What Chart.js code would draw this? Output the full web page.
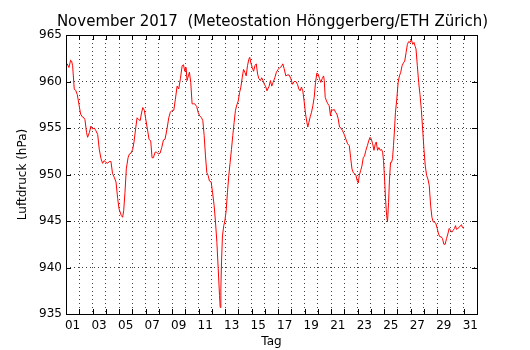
<!DOCTYPE html>
<html><head><meta charset="utf-8">
<script src="https://cdn.jsdelivr.net/npm/chart.js@4"></script>
<style>html,body{margin:0;padding:0;background:#fff}#wrap{width:530px;height:350px}</style>
</head><body><div id="wrap"><canvas id="c" width="530" height="350"></canvas></div>
<script>
// days since 1 Nov 2017 00:00
const days = [
0.00,0.09,0.22,0.35,0.42,0.50,0.62,0.75,0.85,0.97,1.10,1.23,1.35,1.43,1.55,1.63,1.76,1.88,2.00,2.13,2.26,2.39,2.51,2.64,2.76,2.89,3.00,3.14,3.26,3.39,3.51,3.64,3.77,3.90,4.00,4.07,4.17,4.27,4.35,4.45,4.55,4.68,4.78,4.90,5.03,5.13,5.25,5.36,5.48,5.60,5.68,5.79,5.91,6.01,6.14,6.26,6.39,6.49,6.59,6.72,6.84,6.97,7.10,7.22,7.35,
7.47,7.62,7.75,7.87,8.00,8.13,8.25,8.38,8.50,8.63,8.76,8.86,8.96,9.06,9.13,9.23,9.31,9.41,9.51,9.61,9.71,9.86,9.96,10.09,10.22,10.32,10.42,10.52,10.62,10.72,10.82,10.95,11.05,11.17,11.27,11.38,11.48,11.58,11.63,11.68,11.73,11.80,11.90,11.98,12.08,12.18,12.28,12.38,12.48,12.58,12.68,12.78,12.89,12.99,13.09,13.19,13.29,13.39,13.49,13.59,13.69,13.79,13.86,13.94,14.05,14.15,14.25,14.35,14.45,14.55,14.66,14.76,14.86,14.96,15.05,15.16,
15.32,15.42,15.52,15.62,15.75,15.87,16.00,16.13,16.25,16.35,16.45,16.58,16.70,16.83,16.96,17.08,17.21,17.34,17.46,17.56,17.66,17.76,17.86,17.96,18.07,18.17,18.24,18.32,18.42,18.52,18.62,18.72,18.82,18.92,19.02,19.12,19.22,19.32,19.43,19.48,19.55,19.65,19.75,19.85,19.95,20.03,20.13,20.23,20.33,20.43,20.53,20.63,20.74,20.86,20.99,21.11,21.24,21.37,21.47,21.57,21.67,21.77,21.87,21.97,22.05,22.12,22.22,22.32,22.42,22.52,22.62,22.73,22.83,22.93,23.03,
23.13,23.23,23.33,23.40,23.50,23.60,23.70,23.80,23.88,23.95,24.03,24.10,24.18,24.25,24.33,24.40,24.48,24.55,24.63,24.70,24.78,24.85,24.95,25.05,25.15,25.25,25.35,25.45,25.55,25.65,25.75,25.85,25.95,26.05,26.15,26.25,26.33,26.40,26.50,26.60,26.70,26.80,26.90,27.00,27.10,27.20,27.30,27.40,27.50,27.60,27.70,27.80,27.90,28.00,28.10,28.20,28.30,28.40,28.50,28.60,28.70,28.80,28.90,29.00,29.10,29.20,29.30,29.38,29.45,29.55,29.65,29.75,29.83,29.90,29.98
];
// air pressure, hPa
const pressure = [
962.0,961.9,961.5,962.3,962.2,961.7,959.2,959.0,958.6,957.6,956.5,956.2,956.1,955.9,954.5,954.0,954.5,955.2,954.9,955.0,954.7,954.3,952.7,951.7,951.2,951.5,951.3,951.2,951.4,951.4,950.1,949.7,949.2,947.4,946.3,946.3,945.6,945.4,946.1,948.1,950.6,951.8,952.2,952.3,952.7,953.5,954.9,956.1,955.9,955.8,956.5,957.2,956.9,956.0,954.9,953.8,953.6,951.8,951.8,952.4,952.4,952.2,952.3,952.9,953.7,
953.8,954.9,956.1,956.7,956.9,956.9,958.1,959.5,959.2,960.3,961.7,961.8,961.1,961.5,960.1,960.6,961.0,959.9,957.6,957.6,957.6,957.3,956.7,956.3,956.1,955.8,954.2,952.0,950.2,949.9,949.3,949.2,948.1,946.7,945.0,942.7,939.9,937.0,935.7,937.7,940.6,943.4,944.5,945.0,946.1,948.1,949.9,951.3,952.7,954.2,955.6,956.9,957.5,957.9,958.8,959.4,960.4,961.3,961.0,960.6,961.7,962.4,962.6,962.0,961.5,961.1,961.7,961.9,960.8,960.3,960.1,960.4,960.1,959.7,959.5,959.0,
959.5,960.1,959.5,959.9,960.4,961.0,961.3,961.5,961.6,961.9,961.4,960.6,960.7,960.7,960.3,959.7,960.0,960.0,959.7,959.2,959.0,959.4,959.0,957.9,956.5,955.6,955.1,955.6,956.2,956.7,957.4,958.3,959.9,960.9,960.8,960.3,959.9,960.3,960.6,960.1,958.3,957.9,957.6,957.4,956.3,957.0,956.9,957.0,956.7,956.5,956.0,955.1,955.0,954.7,954.3,953.8,953.3,953.1,951.8,950.6,950.2,950.1,949.9,949.3,949.1,949.9,950.4,950.9,951.8,952.0,952.6,953.1,953.6,954.0,953.8,
953.3,952.6,953.3,953.5,952.6,952.9,952.6,952.7,952.4,951.5,949.5,947.4,945.6,944.9,947.0,949.5,951.3,951.3,951.7,953.1,954.9,956.7,958.1,959.9,960.6,961.0,961.7,962.0,962.2,963.1,964.0,964.3,964.2,964.5,964.0,964.2,963.8,963.5,961.7,959.9,958.6,957.0,954.9,952.7,950.9,949.9,949.5,948.8,946.7,945.4,944.9,944.9,944.7,944.2,943.6,943.3,943.3,943.1,942.5,942.5,943.1,943.6,944.2,944.0,943.8,944.0,944.2,944.5,944.1,944.2,944.3,944.5,944.6,944.3,944.2
];
const xTickLabels = ['01','03','05','07','09','11','13','15','17','19','21','23','25','27','29','31'];
const yMin = 935, yMax = 965, yStep = 5;
const titleText = 'November 2017  (Meteostation Hönggerberg/ETH Zürich)';
const xTitle = 'Tag';
const yTitle = 'Luftdruck (hPa)';

Chart.defaults.font.family = "'DejaVu Sans', sans-serif";
Chart.defaults.color = '#000';

const framePlugin = {
  id: 'frame',
  afterDraw(chart) {
    const {ctx, chartArea: {left, right, top, bottom}, scales: {x, y, yRight}} = chart;
    ctx.save();
    ctx.strokeStyle = '#000';
    ctx.lineWidth = 1;
    ctx.setLineDash([]);
    ctx.beginPath();
    x.ticks.forEach(t => {
      const px = Math.round(x.getPixelForValue(t.value)) + 0.5;
      ctx.moveTo(px, bottom); ctx.lineTo(px, bottom - 5);
      ctx.moveTo(px, top); ctx.lineTo(px, top + 5);
    });
    y.ticks.forEach(t => {
      const py = Math.round(y.getPixelForValue(t.value)) + 0.5;
      ctx.moveTo(left, py); ctx.lineTo(left + 5, py);
    });
    yRight.ticks.forEach(t => {
      const py = Math.round(yRight.getPixelForValue(t.value)) + 0.5;
      ctx.moveTo(right, py); ctx.lineTo(right - 5, py);
    });
    ctx.stroke();
    ctx.strokeRect(left + 0.5, top + 0.5, right - left, bottom - top);
    ctx.restore();
  }
};

new Chart(document.getElementById('c'), {
  type: 'line',
  data: {
    datasets: [{
      data: days.map((d, i) => ({x: d, y: pressure[i]})),
      borderColor: '#ff0000',
      borderWidth: 1,
      pointRadius: 0,
      tension: 0,
      fill: false
    }]
  },
  options: {
    responsive: false,
    animation: false,
    devicePixelRatio: 1,
    layout: {padding: {left: 15, right: 0, top: 0, bottom: 0}},
    plugins: {
      legend: {display: false},
      tooltip: {enabled: false},
      title: {
        display: true, text: titleText, fullSize: true,
        font: {size: 15, weight: 'normal'}, color: '#000',
        padding: {top: 13, bottom: 4}
      }
    },
    scales: {
      x: {
        type: 'linear', min: 0, max: 31,
        ticks: {
          stepSize: 1, maxTicksLimit: 100, autoSkip: false, maxRotation: 0, minRotation: 0,
          labelOffset: 6.6, padding: 5, font: {size: 12}, color: '#000',
          callback: (v) => (v % 2 === 0 && v < 31) ? xTickLabels[v / 2] : ''
        },
        grid: {color: 'rgba(0,0,0,0.75)', lineWidth: 1, drawTicks: false},
        border: {display: false, dash: [1, 3]},
        title: {display: true, text: xTitle, font: {size: 12}, padding: {top: 0, bottom: 0.5}},
        afterFit(s) { s.height = 36; }
      },
      y: {
        min: yMin, max: yMax,
        ticks: {stepSize: yStep, padding: 4, font: {size: 12}, color: '#000'},
        grid: {color: 'rgba(0,0,0,0.75)', lineWidth: 1, drawTicks: false},
        border: {display: false, dash: [1, 3]},
        title: {display: true, text: yTitle, font: {size: 12}, padding: {top: 0.8, bottom: 0}},
        afterFit(s) { s.width = 51; }
      },
      yRight: {
        position: 'right', min: yMin, max: yMax,
        ticks: {stepSize: yStep, display: false},
        grid: {display: false, drawTicks: false},
        border: {display: false},
        afterFit(s) { s.width = 53; }
      }
    }
  },
  plugins: [framePlugin]
});
</script>
</body></html>
